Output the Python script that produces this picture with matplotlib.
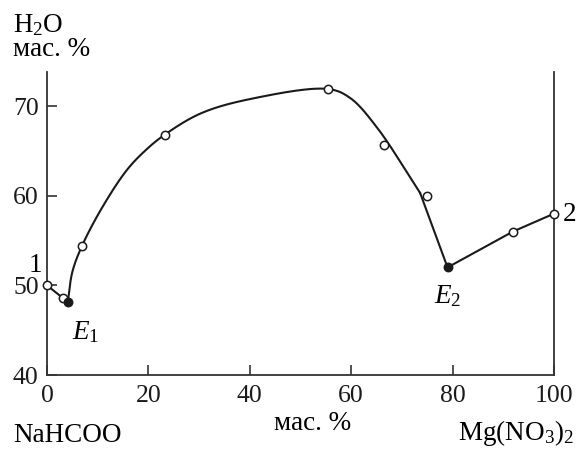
import numpy as np
import matplotlib
matplotlib.use("Agg")
import matplotlib.pyplot as plt

plt.rcParams['font.family'] = ['Liberation Serif', 'DejaVu Serif']
plt.rcParams['mathtext.fontset'] = 'custom'
plt.rcParams['mathtext.rm'] = 'Liberation Serif'
plt.rcParams['mathtext.it'] = 'Liberation Serif:italic'

# Experimental points (open circles)
open_x = [0, 3.1, 6.9, 23.2, 55.5, 66.4, 74.9, 91.9, 100]
open_y = [50.0, 48.6, 54.4, 66.8, 71.9, 65.7, 60.0, 56.0, 58.0]
# Eutectic points (filled)
eut_x = [4.1, 79.0]
eut_y = [48.1, 52.0]
eut_labels = ["$E_1$", "$E_2$"]

# Solubility curve branches
branch1_x = [0, 3.1, 4.1]
branch1_y = [50.0, 48.6, 48.1]
branch2_x = [4.1, 5.0, 6.9, 11.0, 15.8, 19.5, 23.2, 30.4, 40.2, 55.5, 59.8, 65.1, 73.6]
branch2_y = [48.1, 51.5, 54.4, 58.8, 62.9, 65.1, 66.8, 69.2, 70.8, 71.9, 70.9, 67.6, 60.3]
branch3_x = [73.6, 79.0, 91.9, 100]
branch3_y = [60.3, 52.0, 56.0, 58.0]

xticks = [0, 20, 40, 60, 80, 100]
yticks = [40, 50, 60, 70]


def smooth_curve(ax, xs, ys, n=40, alpha=0.5):
    # centripetal Catmull-Rom in display coordinates
    pts = ax.transData.transform(np.column_stack([xs, ys]))
    p = np.vstack([2 * pts[0] - pts[1], pts, 2 * pts[-1] - pts[-2]])
    out = []
    for i in range(1, len(p) - 2):
        P0, P1, P2, P3 = p[i - 1], p[i], p[i + 1], p[i + 2]
        t0 = 0.0
        t1 = t0 + np.linalg.norm(P1 - P0) ** alpha
        t2 = t1 + np.linalg.norm(P2 - P1) ** alpha
        t3 = t2 + np.linalg.norm(P3 - P2) ** alpha
        t = np.linspace(t1, t2, n, endpoint=False)[:, None]
        A1 = (t1 - t) / (t1 - t0) * P0 + (t - t0) / (t1 - t0) * P1
        A2 = (t2 - t) / (t2 - t1) * P1 + (t - t1) / (t2 - t1) * P2
        A3 = (t3 - t) / (t3 - t2) * P2 + (t - t2) / (t3 - t2) * P3
        B1 = (t2 - t) / (t2 - t0) * A1 + (t - t0) / (t2 - t0) * A2
        B2 = (t3 - t) / (t3 - t1) * A2 + (t - t1) / (t3 - t1) * A3
        C = (t2 - t) / (t2 - t1) * B1 + (t - t1) / (t2 - t1) * B2
        out.append(C)
    out.append(p[-2][None, :])
    out = ax.transData.inverted().transform(np.vstack(out))
    return out[:, 0], out[:, 1]


fig = plt.figure(figsize=(5.78, 4.49), dpi=100)
ax = fig.add_axes([47 / 578, 74 / 449, (554 - 47) / 578, (375 - 72) / 449])
ax.set_xlim(0, 100)
ax.set_ylim(40, 73.8)

lc = '#1a1a1a'
ax.plot(branch1_x, branch1_y, color=lc, lw=1.5, zorder=2)
sx, sy = smooth_curve(ax, branch2_x, branch2_y)
ax.plot(sx, sy, color=lc, lw=1.5, zorder=2)
ax.plot(branch3_x, branch3_y, color=lc, lw=1.5, zorder=2)

ax.plot(open_x, open_y, 'o', ms=6, mfc='white', mec=lc, mew=1.1, zorder=3, clip_on=False)
ax.plot(eut_x, eut_y, 'o', ms=6, mfc=lc, mec=lc, mew=1.1, zorder=3, clip_on=False)

ax.spines['top'].set_visible(False)
for s in ['left', 'bottom', 'right']:
    ax.spines[s].set_color('#333333')
    ax.spines[s].set_linewidth(1.3)

ax.set_xticks(xticks)
ax.set_yticks(yticks)
ax.tick_params(axis='both', direction='in', length=7, width=1.2, color='#333333',
               labelsize=18.5, labelcolor='#1a1a1a')
ax.tick_params(axis='x', pad=7)
ax.tick_params(axis='y', pad=6)

fs = 19.5
ax.text(5.0, 44.8, eut_labels[0], fontsize=fs, ha='left', va='center')
ax.text(76.3, 48.8, eut_labels[1], fontsize=fs, ha='left', va='center')
ax.text(-1.0, 52.2, "1", fontsize=fs, ha='right', va='center')
ax.text(101.8, 57.9, "2", fontsize=fs, ha='left', va='center')

fig.text(13 / 578, 1 - 25 / 449, "H$_2$O", fontsize=fs, ha='left', va='center')
fig.text(13 / 578, 1 - 50 / 449, "мас. %", fontsize=fs, ha='left', va='center')
fig.text(313 / 578, 1 - 423 / 449, "мас. %", fontsize=fs, ha='center', va='center')
fig.text(13 / 578, 1 - 435 / 449, "NaHCOO", fontsize=fs, ha='left', va='center')
fig.text(574 / 578, 1 - 433 / 449, "Mg(NO$_3$)$_2$", fontsize=fs, ha='right', va='center')

fig.savefig("out.png", dpi=100)
